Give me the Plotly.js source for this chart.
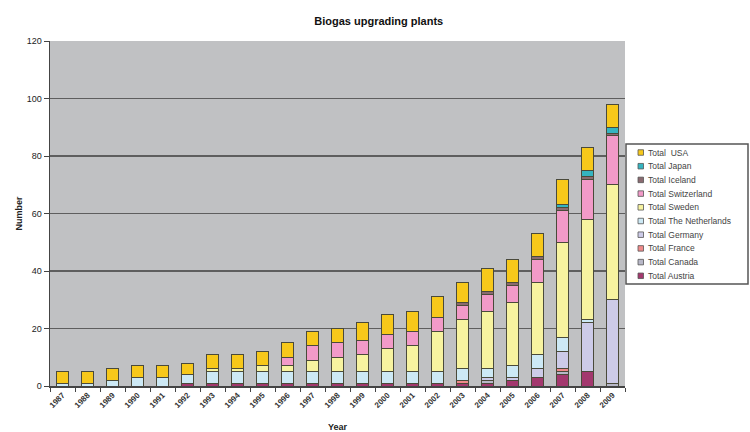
<!DOCTYPE html>
<html><head><meta charset="utf-8">
<script src="https://cdn.plot.ly/plotly-3.0.1.min.js"></script>
<style>html,body{margin:0;padding:0;background:#fff;}#chart{width:750px;height:432px;}</style>
</head><body><div id="chart"></div>
<script>
const years = ["1987","1988","1989","1990","1991","1992","1993","1994","1995","1996","1997","1998","1999","2000","2001","2002","2003","2004","2005","2006","2007","2008","2009"];
const austria     = [0,0,0,0,0,1,1,1,1,1,1,1,1,1,1,1,1,1,2,3,4,5,0];
const canada      = [0,0,0,0,0,0,0,0,0,0,0,0,0,0,0,0,0,1,0,0,1,0,1];
const france      = [0,0,0,0,0,0,0,0,0,0,0,0,0,0,0,0,1,0,0,0,1,0,0];
const germany     = [0,0,0,0,0,0,0,0,0,0,0,0,0,0,0,0,0,1,1,3,6,17,29];
const netherlands = [1,1,2,3,3,3,4,4,4,4,4,4,4,4,4,4,4,3,4,5,5,1,0];
const sweden      = [0,0,0,0,0,0,1,1,2,2,4,5,6,8,9,14,17,20,22,25,33,35,40];
const switzerland = [0,0,0,0,0,0,0,0,0,3,5,5,5,5,5,5,5,6,6,8,11,14,17];
const iceland     = [0,0,0,0,0,0,0,0,0,0,0,0,0,0,0,0,1,1,1,1,1,1,1];
const japan       = [0,0,0,0,0,0,0,0,0,0,0,0,0,0,0,0,0,0,0,0,1,2,2];
const usa         = [4,4,4,4,4,4,5,5,5,5,5,5,6,7,7,7,7,8,8,8,9,8,8];

const seriesNames = ["Total Austria","Total Canada","Total France","Total Germany","Total The Netherlands","Total Sweden","Total Switzerland","Total Iceland","Total Japan","Total  USA"];
const seriesData = [austria,canada,france,germany,netherlands,sweden,switzerland,iceland,japan,usa];
const seriesColors = ["#a3386e","#b8b8c8","#f08a8a","#cdcbe8","#cde9f5","#f7f3a0","#f29ac8","#8a6a70","#35b4c0","#f7c81a"];

const traces = seriesData.map((d,i)=>({
  type:'bar', x:years, y:d, name:seriesNames[i],
  marker:{color:seriesColors[i], line:{color:'#4a4a3a', width:1}},
  hoverinfo:'skip', showlegend:false
}));

// plot-area geometry in pixels (for the hand-drawn legend box)
const PL = 50, PW = 575, PT = 41, PH = 345;
const px2x = p => (p - PL) / PW;
const px2y = p => (PT + PH - p) / PH;

const shapes = [{type:'rect', xref:'paper', yref:'paper',
  x0:px2x(626), x1:px2x(748), y0:px2y(284), y1:px2y(144),
  fillcolor:'#ffffff', line:{color:'#555', width:1.5}, layer:'above'}];
const annotations = [];
const order = seriesNames.map((n,i)=>i).reverse();
order.forEach((si, k) => {
  const cy = 152.5 + k*13.7;
  shapes.push({type:'rect', xref:'paper', yref:'paper',
    x0:px2x(638), x1:px2x(643.5), y0:px2y(cy+2.75), y1:px2y(cy-2.75),
    fillcolor:seriesColors[si], line:{color:'#555', width:0.8}, layer:'above'});
  annotations.push({xref:'paper', yref:'paper', x:px2x(646), y:px2y(cy),
    xanchor:'left', yanchor:'middle', showarrow:false, text:seriesNames[si].replace('  ','&nbsp; '),
    font:{size:8.5, color:'#444'}});
});

const layout = {
  width:750, height:432,
  barmode:'stack', bargap:0.52,
  paper_bgcolor:'#ffffff', plot_bgcolor:'#c0c1c3',
  margin:{l:PL, r:750-PL-PW, t:PT, b:432-PT-PH, autoexpand:false},
  font:{family:'Liberation Sans, Arial, sans-serif', color:'#222', size:9},
  title:{text:'<b>Biogas upgrading plants</b>', x:0.505, xref:'container', y:0.95, yref:'container', yanchor:'middle', font:{size:11, color:'#111'}},
  xaxis:{type:'category', tickangle:-45, ticks:'outside', tickson:'boundaries', ticklen:4, tickcolor:'#444',
    showline:true, linecolor:'#444', linewidth:1.5, showgrid:false, automargin:false,
    tickfont:{size:8, color:'#333', weight:'bold'},
    title:{text:'<b>Year</b>', font:{size:9}, standoff:18}},
  yaxis:{range:[0,120], dtick:20, ticks:'outside', ticklen:5, tickcolor:'#444',
    showline:true, linecolor:'#444', linewidth:1.5, automargin:false,
    showgrid:true, gridcolor:'#5e5e5e', gridwidth:1.5, zeroline:false,
    tickfont:{size:9, color:'#222'},
    title:{text:'<b>Number</b>', font:{size:9}, standoff:2}},
  showlegend:false,
  shapes:shapes, annotations:annotations
};
Plotly.newPlot('chart', traces, layout, {displayModeBar:false, staticPlot:true});
</script>
</body></html>
